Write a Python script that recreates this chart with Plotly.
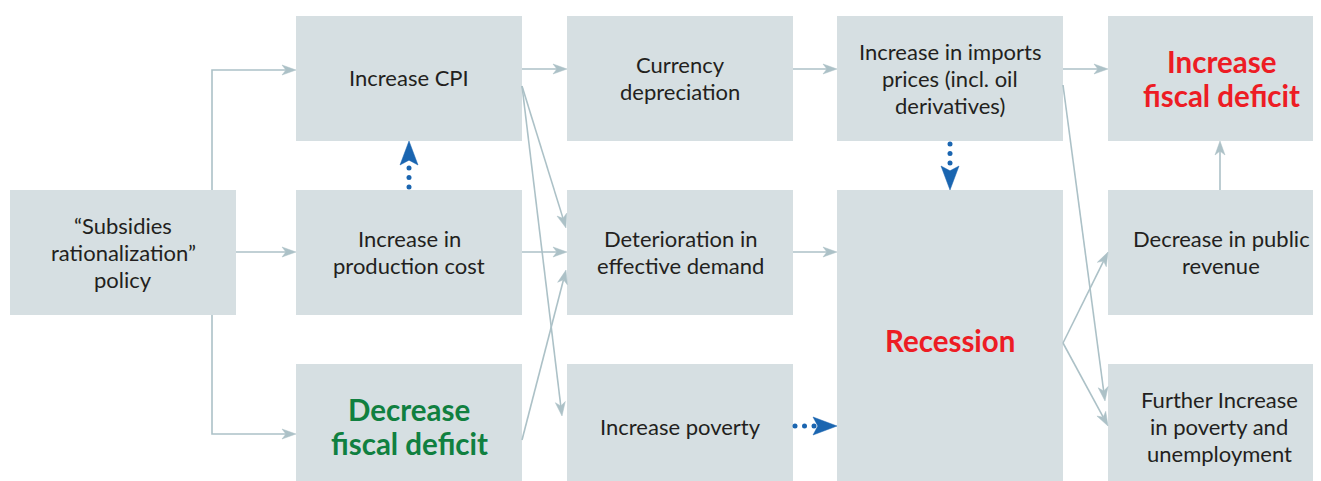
import plotly.graph_objects as go
import math

# ---------------- data ----------------
node_labels = [
    "“Subsidies<br>rationalization”<br>policy",
    "Increase CPI",
    "Increase in<br>production cost",
    "Decrease<br>fiscal deficit",
    "Currency<br>depreciation",
    "Deterioration in<br>effective demand",
    "Increase poverty",
    "Increase in imports<br>prices (incl. oil<br>derivatives)",
    "Recession",
    "Increase<br>fiscal deficit",
    "Decrease in public<br>revenue",
    "Further Increase<br>in poverty and<br>unemployment",
]
node_kind = ["normal", "normal", "normal", "good", "normal", "normal",
             "normal", "normal", "bad", "bad", "normal", "normal"]

# causal links (source, target)
solid_links = [(0, 1), (0, 2), (0, 3), (1, 4), (1, 5), (1, 6), (2, 5), (3, 5),
               (4, 7), (5, 8), (7, 9), (7, 11), (8, 10), (8, 11), (10, 9)]
dotted_links = [(2, 1), (7, 8), (6, 8)]

# ---------------- layout (positions / styles) ----------------
OFF = 8  # page body margin
W, H = 1321, 481
col_x = [(10, 236), (296, 522), (567, 793), (837, 1063), (1108, 1335)]
row_y = [(16, 141), (190, 315), (364, 492)]
node_cell = [(0, 1, 1), (1, 0, 0), (1, 1, 1), (1, 2, 2), (2, 0, 0), (2, 1, 1),
             (2, 2, 2), (3, 0, 0), (3, 1, 2), (4, 0, 0), (4, 1, 1), (4, 2, 2)]
text_y = [252, 77, 252, 426, 78, 252, 426, 78, 340, 78, 252, 426]
text_x_override = {9: 1221, 10: 1221, 11: 1219}

solid_routes = {
    (0, 1): [(212, 190), (212, 70), (296, 70)],
    (0, 2): [(236, 252), (296, 252)],
    (0, 3): [(212, 315), (212, 434), (296, 434)],
    (1, 4): [(522, 69), (567, 69)],
    (1, 5): [(522, 86), (566, 228)],
    (1, 6): [(522, 86), (562, 416)],
    (2, 5): [(522, 252), (567, 252)],
    (3, 5): [(522, 440), (566, 270)],
    (4, 7): [(793, 69), (837, 69)],
    (5, 8): [(793, 252), (837, 252)],
    (7, 9): [(1063, 69), (1108, 69)],
    (7, 11): [(1063, 85), (1105, 401)],
    (8, 10): [(1063, 343), (1108, 252)],
    (8, 11): [(1063, 343), (1108, 426)],
    (10, 9): [(1220, 190), (1220, 141)],
}
dotted_routes = {
    (2, 1): [(409, 187), (409, 141)],
    (7, 8): [(950, 144), (950, 190)],
    (6, 8): [(795, 426), (837, 426)],
}

BOX = "rgb(214,223,226)"
GRAY = "rgb(172,193,199)"
BLUE = "rgb(26,101,176)"
TXT = "rgb(35,31,32)"
RED = "rgb(237,28,36)"
GREEN = "rgb(16,128,64)"
FONT = "Lato"
SIZE_N, LH_N = 22, 27
SIZE_B, LH_B = 29.5, 34

fig = go.Figure()
shapes = []
annotations = []

for i, lab in enumerate(node_labels):
    c, r0, r1 = node_cell[i]
    x0, x1 = col_x[c]
    y0, y1 = row_y[r0][0], row_y[r1][1]
    shapes.append(dict(type="rect", xref="x", yref="y", x0=x0, x1=x1, y0=y0, y1=y1,
                       fillcolor=BOX, line=dict(width=0), layer="below"))
    kind = node_kind[i]
    lines = lab.split("<br>")
    if kind == "normal":
        f = dict(family=FONT, size=SIZE_N, color=TXT)
        lh = LH_N
        fmt = "{}"
    else:
        f = dict(family=FONT, size=SIZE_B, color=RED if kind == "bad" else GREEN)
        lh = LH_B
        fmt = "<b>{}</b>"
    cx = text_x_override.get(i, (x0 + x1) / 2)
    n = len(lines)
    for k, ln in enumerate(lines):
        yy = text_y[i] + (k - (n - 1) / 2) * lh
        annotations.append(dict(x=cx, y=yy, xref="x", yref="y", text=fmt.format(ln),
                                showarrow=False, font=f, xanchor="center",
                                yanchor="middle", align="center"))


def head_path(p_from, tip, L, Wd, notch):
    dx, dy = tip[0] - p_from[0], tip[1] - p_from[1]
    n = math.hypot(dx, dy)
    ux, uy = dx / n, dy / n
    px, py = -uy, ux
    bx, by = tip[0] - L * ux, tip[1] - L * uy
    w1 = (bx + Wd / 2 * px, by + Wd / 2 * py)
    w2 = (bx - Wd / 2 * px, by - Wd / 2 * py)
    nt = (tip[0] - notch * L * ux, tip[1] - notch * L * uy)
    return (f"M{tip[0]},{tip[1]} L{w1[0]},{w1[1]} L{nt[0]},{nt[1]} "
            f"L{w2[0]},{w2[1]} Z"), nt


for link in solid_links:
    pts = solid_routes[link]
    path, nt = head_path(pts[-2], pts[-1], 14, 10, 0.72)
    seg = pts[:-1] + [nt]
    d = "M" + " L".join(f"{x},{y}" for x, y in seg)
    shapes.append(dict(type="path", path=d, xref="x", yref="y",
                       line=dict(color=GRAY, width=1.6)))
    shapes.append(dict(type="path", path=path, xref="x", yref="y",
                       fillcolor=GRAY, line=dict(color=GRAY, width=0.5)))

dot_x, dot_y = [], []
for link in dotted_links:
    (sx, sy), (tx, ty) = dotted_routes[link]
    n = math.hypot(tx - sx, ty - sy)
    ux, uy = (tx - sx) / n, (ty - sy) / n
    path, nt = head_path((sx, sy), (tx, ty), 24, 18, 0.8)
    shapes.append(dict(type="path", path=path, xref="x", yref="y",
                       fillcolor=BLUE, line=dict(color=BLUE, width=0.5)))
    for k in range(3):
        t = k * 9.5
        dot_x.append(sx + ux * t)
        dot_y.append(sy + uy * t)

fig.add_trace(go.Scatter(x=dot_x, y=dot_y, mode="markers",
                         marker=dict(color=BLUE, size=5), hoverinfo="skip",
                         showlegend=False))

fig.update_layout(
    width=W - OFF, height=H - OFF,
    margin=dict(l=0, r=0, t=0, b=0),
    paper_bgcolor="white", plot_bgcolor="white",
    shapes=shapes, annotations=annotations,
    xaxis=dict(range=[OFF, W], visible=False, fixedrange=True),
    yaxis=dict(range=[H, OFF], visible=False, fixedrange=True),
    showlegend=False,
)
fig.write_html("out.html")
